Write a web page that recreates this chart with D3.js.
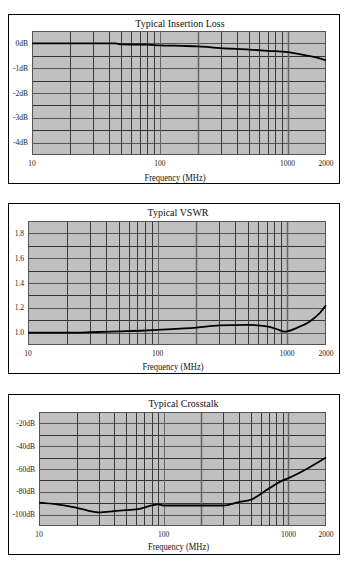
<!DOCTYPE html>
<html><head><meta charset="utf-8">
<script src="https://cdn.jsdelivr.net/npm/d3@7"></script>
<style>body{margin:0;background:#fff}svg{display:block}</style>
</head><body>
<svg id="c" width="352" height="569"></svg>
<script>
// Data
const xTickLabels = [10, 100, 1000, 2000];
const gridFreqs = [20,30,40,50,60,70,80,90,100,200,300,400,500,600,700,800,900,1000];

const ilFreq = [10, 20, 30, 45, 50, 80, 100, 150, 200, 300, 500, 700, 1000, 1300, 1600, 2000];
const ilVal  = [0, 0, 0, 0, -0.04, -0.05, -0.08, -0.1, -0.12, -0.19, -0.25, -0.3, -0.35, -0.45, -0.54, -0.68];

const vsFreq = [10, 20, 30, 50, 80, 100, 200, 300, 500, 700, 850, 950, 1000, 1200, 1500, 1800, 2000];
const vsVal  = [1.0, 1.0, 1.003, 1.01, 1.017, 1.022, 1.04, 1.058, 1.062, 1.05, 1.025, 1.008, 1.01, 1.04, 1.09, 1.16, 1.22];

const xtFreq = [10, 14, 20, 30, 40, 50, 60, 80, 90, 100, 200, 300, 400, 500, 600, 700, 900, 1000, 1400, 2000];
const xtVal  = [-89.5, -91, -94, -98, -97, -96, -95.5, -92, -91, -92, -92, -92, -89, -87, -82, -77, -70, -68, -60, -50];

const ilTicks = [0, -1, -2, -3, -4];
const vsTicks = [1.8, 1.6, 1.4, 1.2, 1.0];
const xtTicks = [-20, -40, -60, -80, -100];

const panels = [
  {title:"Typical Insertion Loss", box:[8,14,339,183], px:[32,326], py:[31,155], yd:[-4.5,0.5], step:0.5,
   ticks:ilTicks, fmt:d=>d+"dB", labX:28, titleY:27, tickY:166, axY:181, fx:ilFreq, fy:ilVal},
  {title:"Typical VSWR", box:[8,203,339,373], px:[28,326], py:[221,345], yd:[0.9,1.9], step:0.1,
   ticks:vsTicks, fmt:d=>d.toFixed(1), labX:24, titleY:216, tickY:356, axY:370, fx:vsFreq, fy:vsVal},
  {title:"Typical Crosstalk", box:[8,394,339,554], px:[39,326], py:[412,526], yd:[-110,-10], step:10,
   ticks:xtTicks, fmt:d=>d+"dB", labX:35, titleY:407, tickY:537, axY:550, fx:xtFreq, fy:xtVal}
];

const svg = d3.select("#c");
const font = "Liberation Serif, Times New Roman, serif";

panels.forEach(p => {
  const g = svg.append("g");
  const [bx0,by0,bx1,by1] = p.box;
  g.append("rect").attr("x",bx0+0.5).attr("y",by0+0.5).attr("width",bx1-bx0).attr("height",by1-by0)
    .attr("fill","#fff").attr("stroke","#000").attr("stroke-width",1);
  const x = d3.scaleLog().domain([10,2000]).range(p.px);
  const y = d3.scaleLinear().domain(p.yd).range([p.py[1], p.py[0]]);
  g.append("rect").attr("x",p.px[0]).attr("y",p.py[0]).attr("width",p.px[1]-p.px[0]).attr("height",p.py[1]-p.py[0])
    .attr("fill","#c0c0c0");
  // horizontal grid
  const n = Math.round((p.yd[1]-p.yd[0])/p.step);
  const hv = d3.range(1,n).map(i => p.yd[0]+i*p.step);
  g.selectAll(".h").data(hv).enter().append("line")
    .attr("x1",p.px[0]).attr("x2",p.px[1])
    .attr("y1",d=>Math.round(y(d))+0.5).attr("y2",d=>Math.round(y(d))+0.5)
    .attr("stroke",(d,i)=>i%2===0?"#555":"#333").attr("stroke-width",1);
  // vertical grid
  g.selectAll(".v").data(gridFreqs).enter().append("line")
    .attr("x1",d=>Math.round(x(d))+0.5).attr("x2",d=>Math.round(x(d))+0.5)
    .attr("y1",p.py[0]).attr("y2",p.py[1])
    .attr("stroke",d=>(d===100||d===1000||d===200)?"#666":"#3a3a3a").attr("stroke-width",d=>(d===200||d===1000)?1.5:1);
  // plot border
  g.append("rect").attr("x",p.px[0]+0.5).attr("y",p.py[0]+0.5).attr("width",p.px[1]-p.px[0]-1).attr("height",p.py[1]-p.py[0]-1)
    .attr("fill","none").attr("stroke","#555").attr("stroke-width",1);
  // curve
  const line = d3.line().x(d=>x(d[0])).y(d=>y(d[1])).curve(d3.curveMonotoneX);
  g.append("path").datum(p.fx.map((f,i)=>[f,p.fy[i]])).attr("d",line)
    .attr("fill","none").attr("stroke","#000").attr("stroke-width",1.8);
  // y labels
  g.selectAll(".yl").data(p.ticks).enter().append("text")
    .attr("x",p.labX).attr("y",d=>y(d)+2.5).attr("text-anchor","end")
    .attr("font-family",font).attr("font-size",7.5).attr("fill","#222").text(p.fmt);
  // x labels
  g.selectAll(".xl").data(xTickLabels).enter().append("text")
    .attr("x",d=>x(d)).attr("y",p.tickY).attr("text-anchor","middle")
    .attr("font-family",font).attr("font-size",7.5).attr("fill","#222").text(d=>d);
  // title
  g.append("text").attr("x",(p.px[0]+p.px[1])/2+1).attr("y",p.titleY).attr("text-anchor","middle")
    .attr("font-family",font).attr("font-size",10).attr("fill","#111").text(p.title);
  // axis label
  g.append("text").attr("x",(p.px[0]+p.px[1])/2-4).attr("y",p.axY).attr("text-anchor","middle")
    .attr("font-family",font).attr("font-size",10).attr("fill","#111").attr("textLength",61).attr("lengthAdjust","spacingAndGlyphs")
    .text("Frequency (MHz)");
});
</script>
</body></html>
